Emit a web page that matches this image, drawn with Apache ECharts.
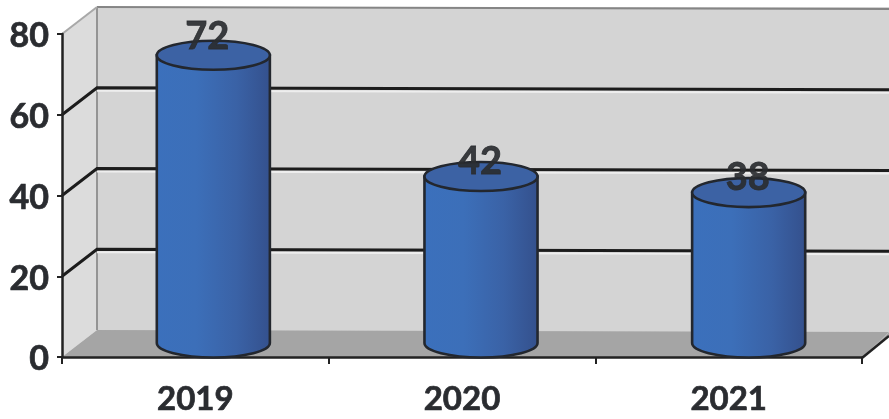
<!DOCTYPE html>
<html><head><meta charset="utf-8">
<style>html,body{margin:0;padding:0;background:#fff}#c{width:889px;height:419px}</style>
<script src="https://cdn.jsdelivr.net/npm/echarts@6/dist/echarts.min.js"></script>
</head><body><div id="c"></div>
<script>
const categories = ['2019', '2020', '2021'];
const seriesValues = [72, 42, 38];
const yTicks = [0, 20, 40, 60, 80];

const chart = echarts.init(document.getElementById('c'), null, {renderer: 'canvas'});
const DEPTH_X = 35, DEPTH_Y = -27;   // oblique wall offset
const RIGHT_EDGE = 889, TILT = 2;    // the scan sits slightly rotated
const TEXT = '#2a2c30';

function renderWalls(params, api) {
  const v = api.value(0);
  const p = api.coord([0, v]);
  const grid = params.coordSys;
  const x0 = grid.x, xr = grid.x + grid.width;
  const y = p[1];
  const children = [];
  if (v === 0) {
    const topY = api.coord([0, 80])[1];
    children.push(
      {type: 'polygon', shape: {points: [[x0, y], [x0 + DEPTH_X, y + DEPTH_Y], [x0 + DEPTH_X, topY + DEPTH_Y], [x0, topY]]},
       style: {fill: '#dcdcdc', stroke: null}},
      {type: 'rect', shape: {x: x0 + DEPTH_X, y: topY + DEPTH_Y, width: RIGHT_EDGE - x0 - DEPTH_X, height: y - topY + TILT},
       style: {fill: '#d4d4d4'}},
      {type: 'polygon', shape: {points: [[x0, y], [x0 + DEPTH_X, y + DEPTH_Y], [RIGHT_EDGE, y + DEPTH_Y + TILT], [xr, y + 1]]},
       style: {fill: '#a5a5a5'}},
      {type: 'polygon', shape: {points: [[xr, y + 1], [RIGHT_EDGE, y + DEPTH_Y + TILT], [RIGHT_EDGE, y + DEPTH_Y + 7]]},
       style: {fill: '#a5a5a5'}},
      {type: 'polyline', shape: {points: [[xr, y + 1], [RIGHT_EDGE, y + DEPTH_Y + 6]]},
       style: {stroke: '#222', lineWidth: 2.5, fill: null}},
      {type: 'line', shape: {x1: x0 + DEPTH_X, y1: topY + DEPTH_Y, x2: x0 + DEPTH_X, y2: y + DEPTH_Y},
       style: {stroke: '#949494', lineWidth: 2}},
      {type: 'line', shape: {x1: x0 + DEPTH_X, y1: topY + DEPTH_Y, x2: RIGHT_EDGE, y2: topY + DEPTH_Y + TILT},
       style: {stroke: '#858585', lineWidth: 2}},
      {type: 'line', shape: {x1: x0, y1: topY, x2: x0 + DEPTH_X, y2: topY + DEPTH_Y},
       style: {stroke: '#a8a8a8', lineWidth: 2}}
    );
  } else if (v !== 80) {
    children.push(
      {type: 'line', shape: {x1: x0 + DEPTH_X, y1: y + DEPTH_Y + 3, x2: RIGHT_EDGE, y2: y + DEPTH_Y + TILT + 3},
       style: {stroke: '#eeeeee', lineWidth: 2}},
      {type: 'polyline', shape: {points: [[x0, y], [x0 + DEPTH_X, y + DEPTH_Y], [RIGHT_EDGE, y + DEPTH_Y + TILT]]},
       style: {stroke: '#1c1c1c', lineWidth: 3, fill: null}}
    );
  }
  return {type: 'group', children};
}

function renderCylinder(params, api) {
  const cat = api.value(0), val = api.value(1);
  const top = api.coord([cat, val]), base = api.coord([cat, 0]);
  const w = api.size([1, 0])[0];
  const rx = w * 0.212, ry = 14.5, dx = 18 + cat, topDy = -11, baseDy = -14;
  const cx = top[0] + dx, ty = top[1] + topDy, by = base[1] + baseDy;
  const line = {stroke: '#23272e', lineWidth: 2.6};
  const body = 'M' + (cx - rx) + ' ' + ty + ' L' + (cx - rx) + ' ' + by +
    ' A' + rx + ' ' + ry + ' 0 0 0 ' + (cx + rx) + ' ' + by +
    ' L' + (cx + rx) + ' ' + ty + ' Z';
  const fill = new echarts.graphic.LinearGradient(0, 0, 1, 0, [
    {offset: 0, color: '#3b70bc'},
    {offset: 0.35, color: '#3c6fb9'},
    {offset: 0.7, color: '#3a62a6'},
    {offset: 1, color: '#34508c'}
  ]);
  const lift = cat === 0 ? 19 : 14.5;
  const nudge = cat === 0 ? -6 : -1;
  return {type: 'group', children: [
    {type: 'path', shape: {pathData: body, x: cx - rx, y: ty, width: rx * 2, height: by - ty + ry, layout: 'cover'},
     style: {fill, ...line}},
    {type: 'ellipse', shape: {cx, cy: ty, rx, ry},
     style: {fill: '#3c62a4', ...line}},
    {type: 'text', z2: 5, style: {text: String(val), x: cx + nudge, y: ty - lift,
      align: 'center', verticalAlign: 'middle',
      font: 'bold 38px Lato', fill: TEXT, stroke: TEXT, lineWidth: 0.8, opacity: 0.92}}
  ]};
}

chart.setOption({
  animation: false,
  backgroundColor: '#ffffff',
  grid: {left: 62, right: 27, top: 34, bottom: 62},
  xAxis: {
    type: 'category', data: categories, z: 5,
    axisLine: {show: true, lineStyle: {color: '#222', width: 2.5}},
    axisTick: {show: true, alignWithLabel: false, length: 7, lineStyle: {color: '#222', width: 2}},
    axisLabel: {color: TEXT, fontFamily: 'Lato', fontWeight: 'bold', fontSize: 33, margin: 26,
                textBorderColor: TEXT, textBorderWidth: 0.7},
    splitLine: {show: false}
  },
  yAxis: {
    type: 'value', min: 0, max: 80, interval: 20, z: 5,
    axisLine: {show: true, lineStyle: {color: '#222', width: 2.5}},
    axisTick: {show: true, length: 5, lineStyle: {color: '#222', width: 2}},
    axisLabel: {margin: 13, formatter: '{t|{value}}', showMinLabel: true, showMaxLabel: true,
      rich: {t: {color: TEXT, fontFamily: 'Lato', fontWeight: 'bold', fontSize: 34, padding: [5, 0, 0, 0],
                 textBorderColor: TEXT, textBorderWidth: 0.7}}},
    splitLine: {show: false}
  },
  series: [
    {type: 'custom', z: 1, silent: true, clip: false, renderItem: renderWalls,
     encode: {y: 0}, data: yTicks.map(v => [v])},
    {type: 'custom', z: 10, silent: true, clip: false, renderItem: renderCylinder,
     encode: {x: 0, y: 1}, data: seriesValues.map((v, i) => [i, v])}
  ]
});
</script></body></html>
